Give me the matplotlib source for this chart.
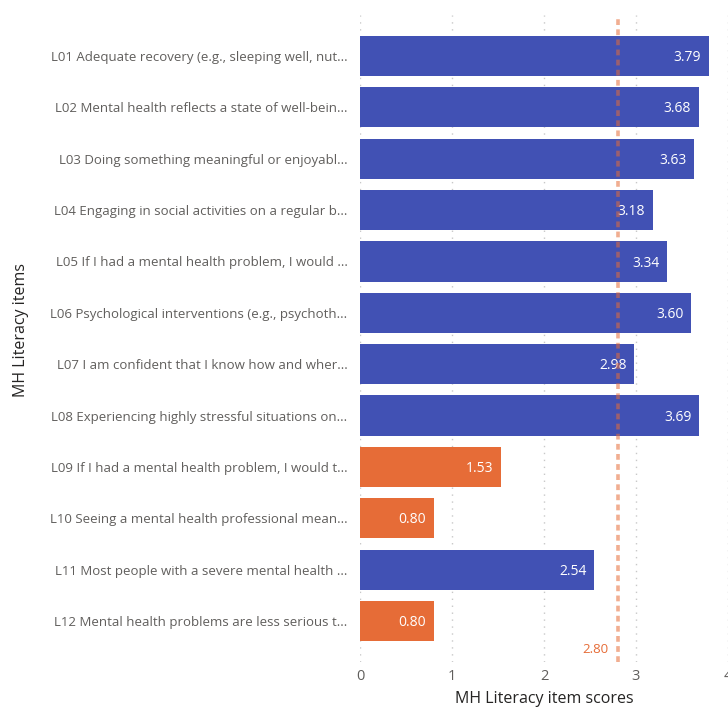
import matplotlib
matplotlib.use('Agg')
import matplotlib.pyplot as plt

# MH literacy item labels (truncated as shown in the report)
items = [
    "L01 Adequate recovery (e.g., sleeping well, nut...",
    "L02 Mental health reflects a state of well-bein...",
    "L03 Doing something meaningful or enjoyabl...",
    "L04 Engaging in social activities on a regular b...",
    "L05 If I had a mental health problem, I would ...",
    "L06 Psychological interventions (e.g., psychoth...",
    "L07 I am confident that I know how and wher...",
    "L08 Experiencing highly stressful situations on...",
    "L09 If I had a mental health problem, I would t...",
    "L10 Seeing a mental health professional mean...",
    "L11 Most people with a severe mental health ...",
    "L12 Mental health problems are less serious t...",
]
scores = [3.79, 3.68, 3.63, 3.18, 3.34, 3.60, 2.98, 3.69, 1.53, 0.80, 2.54, 0.80]
reverse_scored = [False, False, False, False, False, False, False, False, True, True, False, True]
threshold = 2.80
x_ticks = [0, 1, 2, 3, 4]

BLUE = '#4151B4'
ORANGE = '#E66C37'
GREY = '#605E5C'

plt.rcParams['font.family'] = ['Open Sans', 'DejaVu Sans']

fig = plt.figure(figsize=(7.28, 7.09), dpi=100)
ax = fig.add_axes([360 / 728, 1 - 662 / 709, 1 - 360 / 728, 647 / 709])

colors = [ORANGE if r else BLUE for r in reverse_scored]
ypos = list(range(len(items)))
bars = ax.barh(ypos, scores, height=0.78, color=colors, zorder=2)

for y, v in zip(ypos, scores):
    ax.text(v - 0.08, y + 0.03, f"{v:.2f}", ha='right', va='center',
            color='white', fontsize=10, zorder=3)

# average reference line
ax.axvline(threshold, color=ORANGE, alpha=0.55, linewidth=2.6,
           linestyle=(0, (1.6, 1.2)), zorder=4)
ax.text(threshold - 0.1, 11.55, f"{threshold:.2f}", ha='right', va='center',
        color=ORANGE, fontsize=9.5)

ax.set_xlim(0, 4.0)
ax.set_ylim(11.8, -0.8)
ax.set_xticks(x_ticks)
ax.set_xticklabels([str(t) for t in x_ticks])
ax.set_yticks(ypos)
ax.set_yticklabels(items, fontsize=9.5)

ax.xaxis.grid(True, color='#C8C8C8', linestyle=(0, (1, 4)), linewidth=1, zorder=0)
ax.set_axisbelow(True)
for s in ax.spines.values():
    s.set_visible(False)
ax.tick_params(axis='both', length=0, colors=GREY)
ax.tick_params(axis='x', labelsize=10.5, pad=5)
ax.tick_params(axis='y', pad=9)

ax.set_xlabel("MH Literacy item scores", fontsize=11.5, color='#252423', labelpad=5)
fig.text(21 / 728, 1 - 330 / 709, "MH Literacy items", rotation=90,
         ha='center', va='center', fontsize=11.5, color='#252423')

fig.savefig('out.png', dpi=100)
